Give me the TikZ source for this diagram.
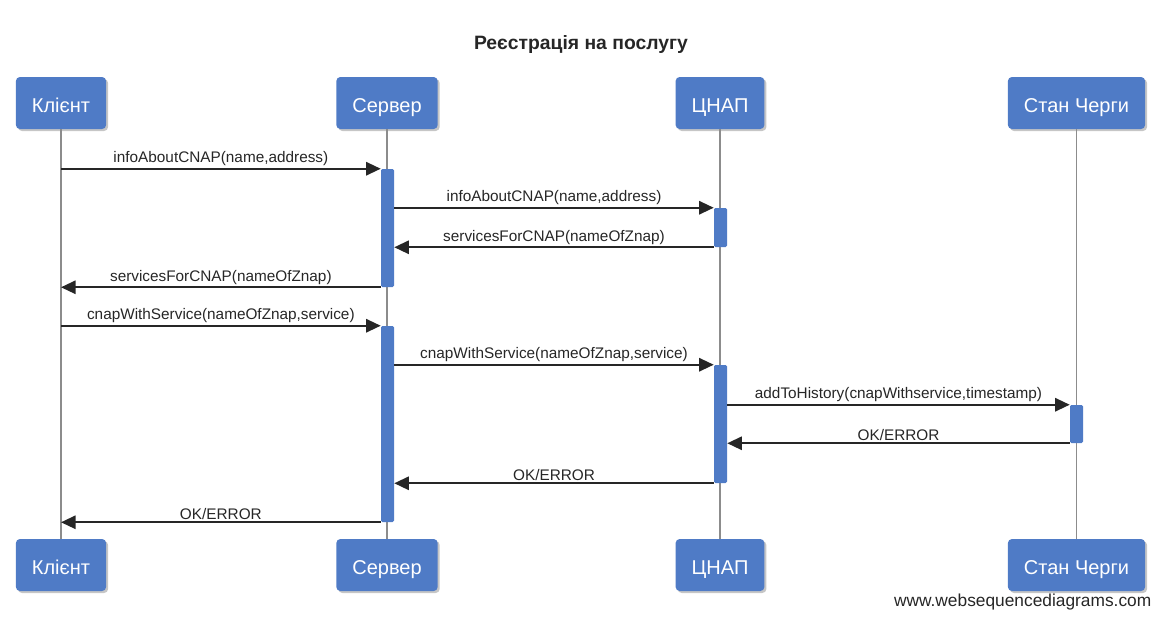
\documentclass[tikz,border=0pt]{standalone}
\usepackage{fontspec}
\setmainfont{Liberation Sans}
\usetikzlibrary{arrows.meta,shadows}
\definecolor{wsdblue}{RGB}{79,123,198}
\definecolor{lifegray}{RGB}{140,140,140}
\tikzset{%
  >={Triangle[length=11pt,width=10pt]}, % filled arrow heads
  actor/.style={fill=wsdblue,rounded corners=3pt,text=white,
    font=\fontsize{15}{18}\selectfont,minimum height=39pt,inner xsep=12pt,
    text height=15pt,text depth=0.5pt,
    drop shadow={shadow xshift=1.5pt,shadow yshift=-1.5pt,opacity=0.45}},
  bar/.style={fill=wsdblue,rounded corners=1pt,inner sep=0pt,minimum width=9.75pt},
  lifeline/.style={draw=lifegray,line width=1.4pt},
  msg/.style={->,line width=1.6pt,draw=black!85},
  msglabel/.style={above,inner sep=1.5pt,font=\fontsize{11.5}{13}\selectfont,
    text=black!85}
}

\begin{document}
\begin{tikzpicture}[x=0.75pt,y=-0.75pt]

\useasboundingbox (0,0) rectangle (1165,619);

%% title

\node[font=\bfseries\fontsize{14.5}{17}\selectfont,text=black!85] (title)
  at (581,44) {Реєстрація на послугу};

%% participants

\node[actor] (cl) at (61,103) {Клієнт};
\node[actor] (srv) at (387,103) {Сервер};
\node[actor] (cnap) at (720,103) {ЦНАП};
\node[actor] (queue) at (1076.5,103) {Стан Черги};

\node[actor] (clb) at (61,565) {Клієнт};
\node[actor] (srvb) at (387,565) {Сервер};
\node[actor] (cnapb) at (720,565) {ЦНАП};
\node[actor] (queueb) at (1076.5,565) {Стан Черги};

%% lifelines

\draw[lifeline] (cl) -- (clb);
\draw[lifeline] (srv) -- (srvb);
\draw[lifeline] (cnap) -- (cnapb);
\draw[lifeline] (queue) -- (queueb);

%% activation bars

\node[bar,minimum height=88.5pt] (srv1) at (387.5,228) {};
\node[bar,minimum height=29.25pt] (cnap1) at (720.5,227.5) {};
\node[bar,minimum height=147pt] (srv2) at (387.5,424) {};
\node[bar,minimum height=88.5pt] (cnap2) at (720.5,424) {};
\node[bar,minimum height=28.5pt] (q1) at (1076.5,424) {};

%% messages

\draw[msg] (srv1.north west -| cl) -- node[msglabel] {infoAboutCNAP(name,address)}
  (srv1.north west);
\draw[msg] (cnap1.north west -| srv1.east) --
  node[msglabel] {infoAboutCNAP(name,address)} (cnap1.north west);
\draw[msg] (cnap1.south west) -- node[msglabel] {servicesForCNAP(nameOfZnap)}
  (cnap1.south west -| srv1.east);
\draw[msg] (srv1.south west) -- node[msglabel] {servicesForCNAP(nameOfZnap)}
  (srv1.south west -| cl);
\draw[msg] (srv2.north west -| cl) --
  node[msglabel] {cnapWithService(nameOfZnap,service)} (srv2.north west);
\draw[msg] (cnap2.north west -| srv2.east) --
  node[msglabel] {cnapWithService(nameOfZnap,service)} (cnap2.north west);
\draw[msg] (q1.north west -| cnap2.east) --
  node[msglabel] {addToHistory(cnapWithservice,timestamp)} (q1.north west);
\draw[msg] (q1.south west) -- node[msglabel] {OK/ERROR} (q1.south west -| cnap2.east);
\draw[msg] (cnap2.south west) -- node[msglabel] {OK/ERROR}
  (cnap2.south west -| srv2.east);
\draw[msg] (srv2.south west) -- node[msglabel] {OK/ERROR} (srv2.south west -| cl);

%% watermark

\node[anchor=east,font=\fontsize{13}{15}\selectfont,text=black!85] (mark)
  at (1156,602) {www.websequencediagrams.com};
\end{tikzpicture}
\end{document}
